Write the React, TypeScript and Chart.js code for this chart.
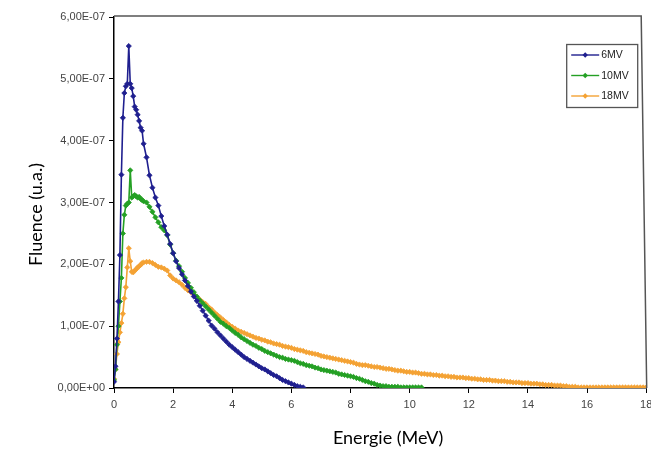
import React, { useEffect, useRef } from "react";
import { Chart, registerables } from "chart.js";

Chart.register(...registerables);

// Energy grid (MeV)
const ENERGY = [
  0, 0.05, 0.1, 0.15, 0.2, 0.25, 0.3, 0.35, 0.4, 0.45, 0.5, 0.55, 0.6, 0.65, 0.7, 0.75, 0.8, 0.85, 0.9, 0.95, 1.0,
  1.1, 1.2, 1.3, 1.4, 1.5, 1.6, 1.7, 1.8, 1.9, 2.0,
  2.1, 2.2, 2.3, 2.4, 2.5, 2.6, 2.7, 2.8, 2.9, 3.0,
  3.1, 3.2, 3.3, 3.4, 3.5, 3.6, 3.7, 3.8, 3.9, 4.0,
  4.1, 4.2, 4.3, 4.4, 4.5, 4.6, 4.7, 4.8, 4.9, 5.0,
  5.1, 5.2, 5.3, 5.4, 5.5, 5.6, 5.7, 5.8, 5.9, 6.0,
  6.1, 6.2, 6.3, 6.4, 6.5, 6.6, 6.7, 6.8, 6.9, 7.0,
  7.1, 7.2, 7.3, 7.4, 7.5, 7.6, 7.7, 7.8, 7.9, 8.0,
  8.1, 8.2, 8.3, 8.4, 8.5, 8.6, 8.7, 8.8, 8.9, 9.0,
  9.1, 9.2, 9.3, 9.4, 9.5, 9.6, 9.7, 9.8, 9.9, 10.0,
  10.1, 10.2, 10.3, 10.4, 10.5, 10.6, 10.7, 10.8, 10.9, 11.0,
  11.1, 11.2, 11.3, 11.4, 11.5, 11.6, 11.7, 11.8, 11.9, 12.0,
  12.1, 12.2, 12.3, 12.4, 12.5, 12.6, 12.7, 12.8, 12.9, 13.0,
  13.1, 13.2, 13.3, 13.4, 13.5, 13.6, 13.7, 13.8, 13.9, 14.0,
  14.1, 14.2, 14.3, 14.4, 14.5, 14.6, 14.7, 14.8, 14.9, 15.0,
  15.1, 15.2, 15.3, 15.4, 15.5, 15.6, 15.7, 15.8, 15.9, 16.0,
  16.1, 16.2, 16.3, 16.4, 16.5, 16.6, 16.7, 16.8, 16.9, 17.0,
  17.1, 17.2, 17.3, 17.4, 17.5, 17.6, 17.7, 17.8, 17.9, 18.0,
];

// Fluence values in units of 1e-7 (u.a.)
const FLUENCE_6MV = [
  0.1, 0.35, 0.8, 1.4, 2.15, 3.45, 4.37, 4.77, 4.88, 4.92, 5.53, 4.92, 4.85, 4.72, 4.55, 4.5, 4.42, 4.32, 4.21, 4.16, 3.95,
  3.73, 3.44, 3.24, 3.08, 2.95, 2.78, 2.62, 2.48, 2.33, 2.18,
  2.05, 1.94, 1.84, 1.74, 1.65, 1.56, 1.48, 1.41, 1.33, 1.25,
  1.17, 1.09, 1.01, 0.96, 0.9, 0.85, 0.8, 0.75, 0.7, 0.66,
  0.62, 0.58, 0.54, 0.5, 0.47, 0.44, 0.41, 0.38, 0.35, 0.32,
  0.3, 0.27, 0.24, 0.21, 0.19, 0.16, 0.13, 0.11, 0.09, 0.07,
  0.05, 0.03, 0.02, 0.01,
];

const FLUENCE_10MV = [
  0.13, 0.3, 0.7, 1.0, 1.4, 1.78, 2.5, 2.8, 2.95, 2.98, 3.0, 3.52, 3.08, 3.1, 3.12, 3.1, 3.08, 3.09, 3.06, 3.04, 3.02,
  3.0, 2.93, 2.85, 2.76, 2.68, 2.6, 2.55, 2.47, 2.32, 2.18,
  2.06, 1.97, 1.88, 1.78, 1.7, 1.62, 1.55, 1.48, 1.42, 1.37,
  1.32, 1.27, 1.22, 1.17, 1.12, 1.07, 1.04, 1.0, 0.97, 0.93,
  0.89, 0.86, 0.82, 0.79, 0.76, 0.73, 0.7, 0.68, 0.65, 0.63,
  0.6, 0.58, 0.56, 0.54, 0.52, 0.5, 0.49, 0.47, 0.46, 0.45,
  0.44, 0.42, 0.4, 0.39, 0.37, 0.36, 0.35, 0.33, 0.32, 0.3,
  0.29, 0.28, 0.27, 0.26, 0.25, 0.23, 0.22, 0.21, 0.2, 0.19,
  0.18, 0.16, 0.15, 0.13, 0.11, 0.1, 0.08, 0.07, 0.05, 0.04,
  0.03, 0.03, 0.02, 0.02, 0.02, 0.02, 0.01, 0.01, 0.01, 0.01,
  0.01, 0.01, 0.01, 0.01,
];

const FLUENCE_18MV = [
  0.15, 0.3, 0.55, 0.74, 0.9, 1.05, 1.2, 1.45, 1.63, 1.95, 2.26, 2.05, 1.88, 1.87, 1.9, 1.92, 1.95, 1.97, 1.99, 2.02, 2.03,
  2.04, 2.04, 2.02, 1.99, 1.96, 1.95, 1.93, 1.9, 1.82, 1.77,
  1.74, 1.71, 1.67, 1.62, 1.58, 1.55, 1.51, 1.47, 1.43, 1.39,
  1.36, 1.31, 1.27, 1.22, 1.18, 1.14, 1.1, 1.06, 1.02, 0.99,
  0.96, 0.93, 0.91, 0.89, 0.87, 0.85, 0.83, 0.81, 0.8, 0.78,
  0.77, 0.75, 0.74, 0.72, 0.71, 0.7, 0.68, 0.67, 0.66, 0.65,
  0.63, 0.62, 0.61, 0.6, 0.58, 0.57, 0.56, 0.55, 0.54, 0.52,
  0.51, 0.5, 0.49, 0.48, 0.47, 0.46, 0.45, 0.44, 0.43, 0.42,
  0.41, 0.39, 0.38, 0.37, 0.37, 0.36, 0.35, 0.34, 0.34, 0.33,
  0.32, 0.31, 0.31, 0.3, 0.29, 0.28, 0.28, 0.27, 0.26, 0.26,
  0.25, 0.25, 0.24, 0.23, 0.23, 0.22, 0.22, 0.21, 0.21, 0.2,
  0.2, 0.19, 0.19, 0.18, 0.18, 0.17, 0.17, 0.17, 0.16, 0.16,
  0.15, 0.15, 0.14, 0.14, 0.13, 0.13, 0.13, 0.12, 0.12, 0.11,
  0.11, 0.11, 0.1, 0.1, 0.09, 0.09, 0.09, 0.08, 0.08, 0.08,
  0.07, 0.07, 0.07, 0.06, 0.06, 0.05, 0.05, 0.05, 0.04, 0.04,
  0.04, 0.03, 0.03, 0.02, 0.02, 0.02, 0.01, 0.01, 0.01, 0.01,
  0.01, 0.01, 0.01, 0.01, 0.01, 0.01, 0.01, 0.01, 0.01, 0.01,
  0.01, 0.01, 0.01, 0.01, 0.01, 0.01, 0.01, 0.01, 0.01, 0.01,
];

const SERIES_LABELS = ["6MV", "10MV", "18MV"];
const SERIES_COLORS = ["#1f1f8f", "#24a024", "#f4a234"];
const X_TICKS = [0, 2, 4, 6, 8, 10, 12, 14, 16, 18];
const Y_TICKS = [0, 1, 2, 3, 4, 5, 6]; // x 1e-7
const X_TITLE = "Energie (MeV)";
const Y_TITLE = "Fluence (u.a.)";

function toPoints(values: number[]) {
  return values.map((v, i) => ({ x: ENERGY[i], y: v }));
}

function formatY(v: number) {
  if (v === 0) return "0,00E+00";
  return v.toFixed(2).replace(".", ",") + "E-07";
}

const TITLE_FONT = "18px Lato, 'Open Sans', sans-serif";

const decorPlugin = {
  id: "decor",
  afterDraw(chart: any) {
    const { ctx, chartArea } = chart;
    ctx.save();
    // top and right frame of plot area
    ctx.strokeStyle = "#555";
    ctx.lineWidth = 1.5;
    ctx.beginPath();
    ctx.moveTo(chartArea.left, chartArea.top - 1);
    ctx.lineTo(chartArea.right - 5, chartArea.top - 1);
    ctx.lineTo(chartArea.right + 0.5, chartArea.bottom);
    ctx.stroke();

    // axis titles
    ctx.fillStyle = "#000";
    ctx.font = TITLE_FONT;
    ctx.textAlign = "center";
    ctx.textBaseline = "middle";
    const midX = (chartArea.left + chartArea.right) / 2 + 8;
    ctx.fillText(X_TITLE, midX, chartArea.bottom + 50);
    ctx.save();
    ctx.translate(36, (chartArea.top + chartArea.bottom) / 2 + 12);
    ctx.rotate(-Math.PI / 2);
    ctx.fillText(Y_TITLE, 0, 0);
    ctx.restore();

    // legend box
    const boxRight = chartArea.right - 9;
    const boxW = 71;
    const boxLeft = boxRight - boxW;
    const boxTop = chartArea.top + 27;
    const boxH = 63;
    ctx.fillStyle = "#fff";
    ctx.fillRect(boxLeft, boxTop, boxW, boxH);
    ctx.strokeStyle = "#555";
    ctx.lineWidth = 1.3;
    ctx.strokeRect(boxLeft + 0.5, boxTop + 0.5, boxW, boxH);
    ctx.font = "10.5px 'Liberation Sans', Arial, sans-serif";
    ctx.textBaseline = "middle";
    ctx.textAlign = "left";
    chart.data.datasets.forEach((ds: any, i: number) => {
      const y = boxTop + 11 + i * 20.5;
      const x0 = boxLeft + 5;
      const x1 = boxLeft + 33;
      ctx.strokeStyle = ds.borderColor;
      ctx.lineWidth = 1.4;
      ctx.beginPath();
      ctx.moveTo(x0, y);
      ctx.lineTo(x1, y);
      ctx.stroke();
      ctx.fillStyle = ds.borderColor;
      const cx = (x0 + x1) / 2;
      ctx.beginPath();
      ctx.moveTo(cx, y - 2.7);
      ctx.lineTo(cx + 2.7, y);
      ctx.lineTo(cx, y + 2.7);
      ctx.lineTo(cx - 2.7, y);
      ctx.closePath();
      ctx.fill();
      ctx.fillStyle = "#222";
      ctx.fillText(ds.label, x1 + 2, y + 0.5);
    });
    ctx.restore();
  },
};

export default function App() {
  const canvasRef = useRef<HTMLCanvasElement | null>(null);

  useEffect(() => {
    const canvas = canvasRef.current;
    if (!canvas) return;
    const series = [FLUENCE_6MV, FLUENCE_10MV, FLUENCE_18MV];
    const tickFont = { family: "'Liberation Sans', Arial, sans-serif", size: 11 };
    const chart = new Chart(canvas, {
      type: "line",
      data: {
        datasets: series.map((vals, i) => ({
          label: SERIES_LABELS[i],
          data: toPoints(vals),
          borderColor: SERIES_COLORS[i],
          backgroundColor: SERIES_COLORS[i],
          borderWidth: 1.6,
          pointStyle: "rectRot",
          pointRadius: 2.6,
          pointBorderWidth: 0.8,
          pointBackgroundColor: SERIES_COLORS[i],
          pointBorderColor: SERIES_COLORS[i],
          tension: 0,
          fill: false,
        })),
      },
      options: {
        animation: false,
        responsive: false,
        maintainAspectRatio: false,
        layout: { padding: { top: 17, right: 3, left: 0, bottom: 0 } },
        plugins: {
          legend: { display: false },
          tooltip: { enabled: false },
        },
        scales: {
          x: {
            type: "linear",
            min: 0,
            max: 18,
            afterBuildTicks: (s: any) => {
              s.ticks = X_TICKS.map((v) => ({ value: v }));
            },
            afterFit: (s: any) => {
              s.height = 62;
              s.paddingRight = 0;
              s.paddingLeft = 0;
            },
            grid: {
              display: true,
              drawOnChartArea: false,
              drawTicks: true,
              tickLength: 5,
              color: "#000",
              lineWidth: 1,
            },
            border: { display: true, color: "#000", width: 1.5 },
            ticks: {
              font: tickFont,
              color: "#444",
              padding: 5,
              maxRotation: 0,
              autoSkip: false,
              callback: (v: any) => String(v),
            },
            title: { display: false, text: X_TITLE },
          },
          y: {
            type: "linear",
            min: 0,
            max: 6,
            afterBuildTicks: (s: any) => {
              s.ticks = Y_TICKS.map((v) => ({ value: v }));
            },
            afterFit: (s: any) => {
              s.width = 114;
            },
            grid: {
              display: true,
              drawOnChartArea: false,
              drawTicks: true,
              tickLength: 5,
              color: "#000",
              lineWidth: 1,
            },
            border: { display: true, color: "#000", width: 1.5 },
            ticks: {
              font: tickFont,
              color: "#444",
              padding: 4,
              autoSkip: false,
              callback: (v: any) => formatY(Number(v)),
            },
            title: { display: false, text: Y_TITLE },
          },
        },
      },
      plugins: [decorPlugin],
    } as any);
    return () => chart.destroy();
  }, []);

  return (
    <div style={{ position: "absolute", left: 0, top: 0, width: 651, height: 450, background: "#fff" }}>
      <canvas ref={canvasRef} width={651} height={450} style={{ display: "block", width: 651, height: 450 }} />
    </div>
  );
}
